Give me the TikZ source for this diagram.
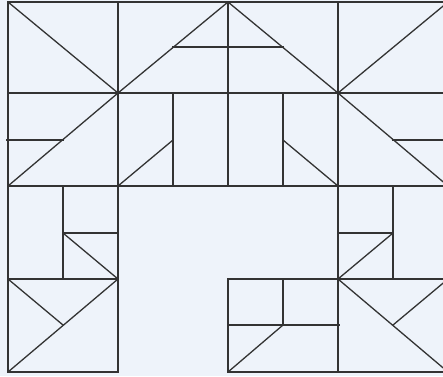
\documentclass[tikz,border=0pt]{standalone}
\begin{document}
\begin{tikzpicture}[x=1pt,y=-1pt,
  ln/.style={draw=black!80,line width=1.3pt,line cap=rect}]
\useasboundingbox (0,0) rectangle (443,376);
\clip (0,0) rectangle (443,376);
\fill[color={rgb,255:red,238;green,243;blue,250}] (0,0) rectangle (443,376);
% faint background swirls
\begin{scope}[white,line width=1.2pt,opacity=0.55]
\foreach \r in {60,100,140,180,220,260,300}
  \draw (443,400) ++(180:\r) arc (180:90:\r);
\end{scope}
% grid
\draw[ln] (8,2) -- (448,2);
\draw[ln] (8,93) -- (448,93);
\draw[ln] (8,186) -- (448,186);
\draw[ln] (8,279) -- (118,279);
\draw[ln] (228,279) -- (448,279);
\draw[ln] (8,372) -- (118,372);
\draw[ln] (228,372) -- (448,372);
\draw[ln] (8,2) -- (8,372);
\draw[ln] (118,2) -- (118,372);
\draw[ln] (228,2) -- (228,186);
\draw[ln] (228,279) -- (228,372);
\draw[ln] (338,2) -- (338,372);
% row 0
\draw[ln] (8,2) -- (118,93);
\draw[ln] (118,93) -- (228,2);
\draw[ln] (173,47) -- (283,47);
\draw[ln] (228,2) -- (338,93);
\draw[ln] (338,93) -- (448,2);
% row 1
\draw[ln] (8,186) -- (118,93);
\draw[ln] (7,140) -- (63,140);
\draw[ln] (173,93) -- (173,186);
\draw[ln] (118,186) -- (173,140);
\draw[ln] (283,93) -- (283,186);
\draw[ln] (283,140) -- (338,186);
\draw[ln] (338,93) -- (448,186);
\draw[ln] (393,140) -- (448,140);
% row 2
\draw[ln] (63,186) -- (63,279);
\draw[ln] (63,233) -- (118,233);
\draw[ln] (63,233) -- (118,279);
\draw[ln] (393,186) -- (393,279);
\draw[ln] (338,233) -- (393,233);
\draw[ln] (338,279) -- (393,233);
% row 3
\draw[ln] (8,372) -- (118,279);
\draw[ln] (8,279) -- (63,325);
\draw[ln] (283,279) -- (283,325);
\draw[ln] (228,325) -- (339,325);
\draw[ln] (228,372) -- (283,325);
\draw[ln] (338,279) -- (448,372);
\draw[ln] (393,325) -- (448,279);
\end{tikzpicture}
\end{document}
